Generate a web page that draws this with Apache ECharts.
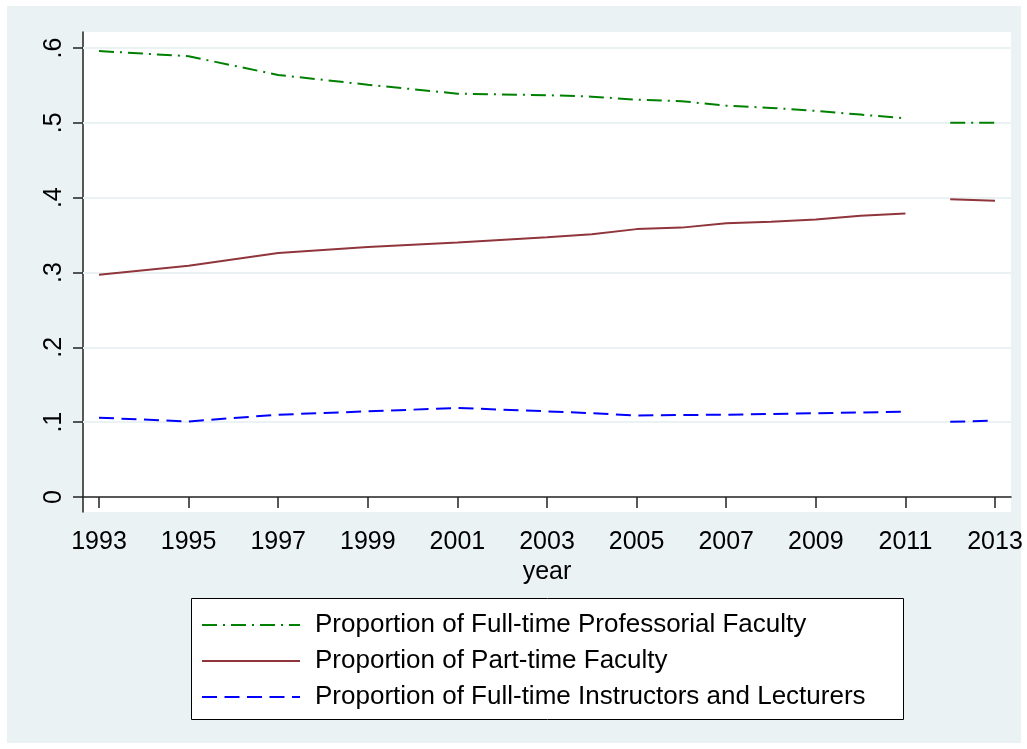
<!DOCTYPE html>
<html>
<head>
<meta charset="utf-8">
<script src="https://cdn.jsdelivr.net/npm/echarts@6/dist/echarts.min.js"></script>
<style>
  html, body { margin: 0; padding: 0; background: #fff; }
  #main { width: 1027px; height: 749px; }
</style>
</head>
<body>
<div id="main"></div>
<script>
const years = [1993, 1995, 1997, 1999, 2001, 2003, 2004, 2005, 2006, 2007, 2008, 2009, 2010, 2011, 2012, 2013];
const professorial = [0.596, 0.589, 0.564, 0.551, 0.539, 0.537, 0.535, 0.531, 0.529, 0.523, 0.520, 0.516, 0.511, 0.506, 0.500, 0.500];
const partTime = [0.297, 0.309, 0.326, 0.334, 0.340, 0.347, 0.351, 0.358, 0.360, 0.366, 0.368, 0.371, 0.376, 0.379, 0.398, 0.396];
const instructors = [0.106, 0.101, 0.110, 0.1145, 0.119, 0.1145, 0.112, 0.109, 0.1096, 0.110, 0.111, 0.112, 0.113, 0.114, 0.1006, 0.102];
// line is broken between these two years in the original
const breakAfter = 2011;

const xTicks = [1993, 1995, 1997, 1999, 2001, 2003, 2005, 2007, 2009, 2011, 2013];
const yTicks = [0, 0.1, 0.2, 0.3, 0.4, 0.5, 0.6];
const names = [
    'Proportion of Full-time Professorial Faculty',
    'Proportion of Part-time Faculty',
    'Proportion of Full-time Instructors and Lecturers'
];

const toData = (vals) => {
    let out = [];
    years.forEach((y, i) => {
        out.push([y, vals[i]]);
        if (y === breakAfter) out.push([y + 0.5, null]);
    });
    return out;
};

const font = 'Liberation Sans, Arial, Helvetica, sans-serif';
const axisColor = '#222';

var myChart = echarts.init(document.getElementById('main'));
const option = {
    animation: false,
    backgroundColor: '#fff',
    textStyle: { fontFamily: font },
    graphic: [
        {
            type: 'rect', z: -10,
            shape: { x: 7, y: 6, width: 1014, height: 737 },
            style: { fill: '#EAF2F3' }
        },
        {
            type: 'rect', z: 2,
            shape: { x: 191.5, y: 598.5, width: 712, height: 121 },
            style: { fill: '#fff', stroke: '#000', lineWidth: 1 }
        }
    ],
    grid: {
        left: 83,
        right: 16,
        top: 32,
        bottom: 237,
        show: true,
        backgroundColor: '#fff',
        borderWidth: 0
    },
    legend: {
        orient: 'vertical',
        left: 201,
        top: 610,
        padding: 0,
        itemWidth: 98,
        itemHeight: 14,
        itemGap: 6,
        z: 5,
        itemStyle: { opacity: 0 },
        textStyle: { fontSize: 26, color: '#000', lineHeight: 30, padding: [0, 0, 0, 10], fontFamily: font },
        data: names
    },
    xAxis: {
        type: 'value',
        min: 1992.643,
        max: 2013.357,
        name: 'year',
        nameLocation: 'middle',
        nameGap: 45,
        nameTextStyle: { fontSize: 25, color: '#000', fontFamily: font },
        axisLine: { show: true, lineStyle: { color: axisColor, width: 1.5 } },
        axisTick: { show: true, length: 11, customValues: xTicks, lineStyle: { color: axisColor, width: 1.5 } },
        axisLabel: {
            customValues: xTicks,
            fontSize: 25,
            color: '#000',
            margin: 18,
            fontFamily: font,
            formatter: v => String(v)
        },
        splitLine: { show: false }
    },
    yAxis: {
        type: 'value',
        min: -0.02,
        max: 0.6214,
        axisLine: { show: true, lineStyle: { color: axisColor, width: 1.5 } },
        axisTick: { show: true, length: 10, customValues: yTicks, lineStyle: { color: axisColor, width: 1.5 } },
        axisLabel: {
            customValues: yTicks,
            rotate: 90,
            fontSize: 25,
            color: '#000',
            margin: 16,
            fontFamily: font,
            formatter: v => v === 0 ? '0' : String(+v.toFixed(1)).replace(/^0/, '')
        },
        splitLine: { show: false }
    },
    series: [
        {
            // horizontal grid lines, kept under the data lines
            type: 'line',
            data: [],
            z: 1,
            silent: true,
            markLine: {
                z: 1,
                silent: true,
                symbol: ['none', 'none'],
                label: { show: false },
                lineStyle: { color: '#EAF2F3', width: 2, type: 'solid' },
                data: yTicks.filter(v => v > 0).map(v => ({ yAxis: v }))
            }
        },
        {
            name: names[0],
            type: 'line',
            symbol: 'none',
            connectNulls: false,
            lineStyle: { color: '#008000', width: 2, type: [15, 6, 2, 6] },
            itemStyle: { color: '#008000' },
            data: toData(professorial),
            z: 3
        },
        {
            name: names[1],
            type: 'line',
            symbol: 'none',
            connectNulls: false,
            lineStyle: { color: '#90353B', width: 2, type: 'solid' },
            itemStyle: { color: '#90353B' },
            data: toData(partTime),
            z: 3
        },
        {
            name: names[2],
            type: 'line',
            symbol: 'none',
            connectNulls: false,
            lineStyle: { color: '#0000FF', width: 2, type: [15, 7.5] },
            itemStyle: { color: '#0000FF' },
            data: toData(instructors),
            z: 3
        }
    ]
};
myChart.setOption(option);
</script>
</body>
</html>
